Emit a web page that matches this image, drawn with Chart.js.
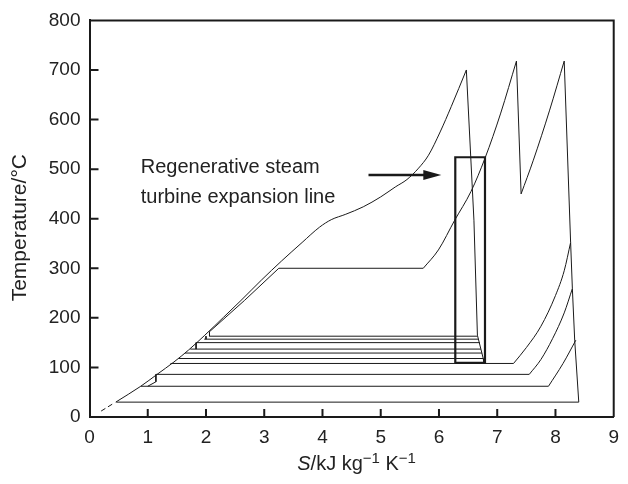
<!DOCTYPE html>
<html>
<head>
<meta charset="utf-8">
<script src="https://cdn.jsdelivr.net/npm/chart.js@4"></script>
<style>
  html, body { margin: 0; padding: 0; background: #fff; }
</style>
</head>
<body>
<canvas id="chart" width="628" height="484"></canvas>
<script>
// values: [S, T]
const envelope = [[0.45,30],[0.88,62],[1.16,86],[1.45,111],[1.70,135],[1.98,165],[2.30,201],[2.60,235],[2.95,276],[3.30,315],[3.65,352],[3.95,383],[4.15,398],[4.40,409],[4.70,424],[5.00,444],[5.25,464],[5.45,479],[5.65,502],[5.82,528],[6.02,575],[6.21,626],[6.47,700]];
const dashedStart = [[0.20,12],[0.42,28]];
const expansionLine = [[6.47,700],[6.60,397],[6.66,165],[6.76,118],[6.77,110]];
const boilerLine = [[2.06,172],[2.66,235],[3.25,300],[5.73,300]];
const superheat = [[5.73,300],[5.99,337],[6.27,397],[6.55,455],[6.79,522],[7.06,613],[7.33,718]];
const firstDrop = [[7.33,718],[7.41,450]];
const reheat = [[7.41,450],[7.62,518],[7.90,619],[8.15,718]];
const lastDrop = [[8.15,718],[8.26,352],[8.29,259],[8.33,155],[8.40,30]];

// feed heater lines: temperature, start S, end S
const heaterT = [163, 157, 150, 137, 129, 118];
const heaterStart = [2.06, 1.97, 1.83, 1.73, 1.64, 1.53];
const heaterEnd = [6.66, 6.68, 6.70, 6.72, 6.74, 6.76];

const lowLineT = [108, 86, 62, 30];
const lowLineStart = [1.39, 1.14, 0.88, 0.46];
const lowLineEnd = [7.28, 7.55, 7.88, 8.40];
const lowCurves = [
  [[7.28,108],[7.50,140],[7.75,183],[8.00,245],[8.15,295],[8.26,352]],
  [[7.55,86],[7.75,116],[7.95,158],[8.15,210],[8.29,259]],
  [[7.88,62],[8.13,108],[8.35,155]]
];
const hooks = [
  [[2.06,172],[2.06,163]],
  [[2.00,163],[2.00,157]],
  [[1.83,150],[1.83,137]],
  [[1.14,86],[1.14,71],[1.00,62]]
];

const boxS = [6.28, 6.79];
const boxT = [109, 524];
const arrowS = [4.79, 6.04];
const arrowT = 488;

const xTicks = [0,1,2,3,4,5,6,7,8,9];
const yTicks = [0,100,200,300,400,500,600,700,800];

const ink = '#1a1a1a';
const font = '"Liberation Sans", Arial, Helvetica, sans-serif';

function line(points, extra) {
  return Object.assign({
    data: points.map(p => ({ x: p[0], y: p[1] })),
    showLine: true,
    borderColor: ink,
    borderWidth: 1,
    pointRadius: 0,
    tension: 0,
    fill: false
  }, extra || {});
}
const smooth = { cubicInterpolationMode: 'monotone' };

const datasets = [];
datasets.push(line(dashedStart, { borderDash: [5, 3] }));
datasets.push(line(envelope, smooth));
datasets.push(line(expansionLine));
datasets.push(line(boilerLine));
datasets.push(line(superheat, smooth));
datasets.push(line(firstDrop));
datasets.push(line(reheat, smooth));
datasets.push(line(lastDrop));
heaterT.forEach((t, i) => datasets.push(line([[heaterStart[i], t], [heaterEnd[i], t]])));
lowLineT.forEach((t, i) => datasets.push(line([[lowLineStart[i], t], [lowLineEnd[i], t]])));
lowCurves.forEach(c => datasets.push(line(c, smooth)));
hooks.forEach(h => datasets.push(line(h)));
datasets.push(line([[boxS[0], boxT[0]], [boxS[0], boxT[1]], [boxS[1], boxT[1]], [boxS[1], boxT[0]], [boxS[0], boxT[0]]], { borderWidth: 2.2 }));
datasets.push(line([[arrowS[0], arrowT], [arrowS[1] - 0.2, arrowT]], { borderWidth: 2.5 }));

// frame top/right, inward ticks, arrow head and texts
const extras = {
  id: 'extras',
  afterDraw(chart) {
    const { ctx, chartArea: a, scales: { x, y } } = chart;
    ctx.save();
    ctx.strokeStyle = ink;
    ctx.lineWidth = 2;
    ctx.beginPath();
    ctx.moveTo(a.left, a.top);
    ctx.lineTo(a.right, a.top);
    ctx.lineTo(a.right, a.bottom);
    xTicks.slice(1, -1).forEach(v => {
      const px = x.getPixelForValue(v);
      ctx.moveTo(px, a.bottom);
      ctx.lineTo(px, a.bottom - 8);
    });
    yTicks.slice(1, -1).forEach(v => {
      const py = y.getPixelForValue(v);
      ctx.moveTo(a.left, py);
      ctx.lineTo(a.left + 9, py);
    });
    ctx.stroke();

    // arrow head
    const tipX = x.getPixelForValue(arrowS[1]);
    const tipY = y.getPixelForValue(arrowT);
    ctx.fillStyle = ink;
    ctx.beginPath();
    ctx.moveTo(tipX, tipY);
    ctx.lineTo(tipX - 18, tipY - 5);
    ctx.lineTo(tipX - 18, tipY + 5);
    ctx.closePath();
    ctx.fill();

    // annotation
    ctx.fillStyle = '#222';
    ctx.font = '20px ' + font;
    ctx.textBaseline = 'alphabetic';
    ctx.textAlign = 'left';
    const noteX = x.getPixelForValue(0.88);
    ctx.fillText('Regenerative steam', noteX, y.getPixelForValue(493));
    ctx.fillText('turbine expansion line', noteX, y.getPixelForValue(431));

    // x title with italic S and superscripts
    const parts = [
      { t: 'S', f: 'italic 20px ' + font, dy: 0 },
      { t: '/kJ kg', f: '20px ' + font, dy: 0 },
      { t: '\u22121', f: '15px ' + font, dy: -7 },
      { t: ' K', f: '20px ' + font, dy: 0 },
      { t: '\u22121', f: '15px ' + font, dy: -7 }
    ];
    let w = 0;
    parts.forEach(p => { ctx.font = p.f; w += ctx.measureText(p.t).width; });
    let cx = (a.left + a.right) / 2 + 5 - w / 2;
    const base = 470;
    parts.forEach(p => {
      ctx.font = p.f;
      ctx.fillText(p.t, cx, base + p.dy);
      cx += ctx.measureText(p.t).width;
    });

    // y title
    ctx.translate(20, (a.top + a.bottom) / 2 + 9);
    ctx.rotate(-Math.PI / 2);
    ctx.textAlign = 'center';
    ctx.textBaseline = 'middle';
    ctx.font = '21px ' + font;
    ctx.fillText('Temperature/\u00B0C', 0, 0);
    ctx.restore();
  }
};

new Chart(document.getElementById('chart'), {
  type: 'scatter',
  data: { datasets: datasets },
  options: {
    responsive: false,
    animation: false,
    layout: { padding: { top: 20, right: 6, left: 0, bottom: 0 } },
    plugins: { legend: { display: false }, tooltip: { enabled: false } },
    scales: {
      x: {
        type: 'linear',
        min: 0,
        max: 9,
        afterFit: s => { s.height = 67; },
        afterBuildTicks: s => { s.ticks = xTicks.map(v => ({ value: v })); },
        grid: { display: false, drawTicks: false },
        border: { display: true, color: ink, width: 2 },
        ticks: { padding: 9, color: '#222', font: { family: font, size: 19 } }
      },
      y: {
        type: 'linear',
        min: 0,
        max: 800,
        afterFit: s => { s.width = 89.5; },
        afterBuildTicks: s => { s.ticks = yTicks.map(v => ({ value: v })); },
        grid: { display: false, drawTicks: false },
        border: { display: true, color: ink, width: 2 },
        ticks: { padding: 9, color: '#222', font: { family: font, size: 19 } }
      }
    }
  },
  plugins: [extras]
});
</script>
</body>
</html>
